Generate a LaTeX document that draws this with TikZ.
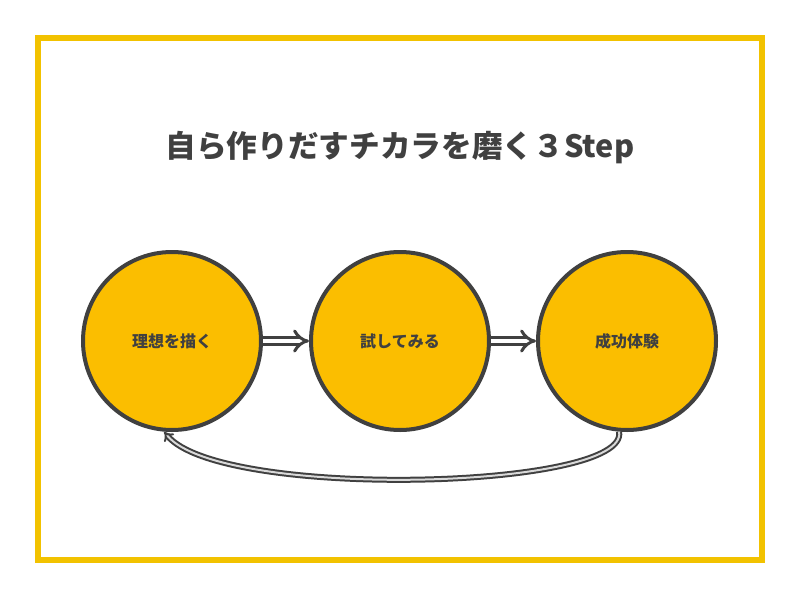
\documentclass[tikz,border=0pt]{standalone}
\usepackage{fontspec}
\setmainfont{Noto Sans CJK JP}
\usetikzlibrary{arrows.meta}
\definecolor{frameyellow}{HTML}{F2C200}
\definecolor{stepfill}{HTML}{FBBE00}
\definecolor{ink}{HTML}{404040}
\newlength{\pxu}\setlength{\pxu}{0.75pt}
\tikzset{
  stepnode/.style={circle, draw=ink, line width=3pt, fill=stepfill, minimum size=178\pxu, inner sep=0pt, text=ink, font=\bfseries\fontsize{12}{12}\selectfont},
  flow/.style={draw=ink, double=white, double distance=3.5pt, line width=2.2pt, -{Implies}},
}
\begin{document}
\begin{tikzpicture}[x=0.75pt,y=-0.75pt]
\useasboundingbox (0,0) rectangle (800,600);
\fill[white] (0,0) rectangle (800,600);
\draw[frameyellow, line width=3.8pt] (38,38) rectangle (762,560);

\node[text=ink, font=\bfseries\fontsize{23}{23}\selectfont] (title) at (400,148) {自ら作りだすチカラを磨く３Step};

\node[stepnode] (ideal) at (172,341) {理想を描く};
\node[stepnode] (try) at (400,341) {試してみる};
\node[stepnode] (success) at (627,341) {成功体験};

\draw[flow] (ideal) -- (try);
\draw[flow] (try) -- (success);
\draw[draw=ink, double=white!85!black, double distance=1.5pt, line width=1.5pt, -{Implies}]
  (success.-95) .. controls (630,490) and (220,500) .. (ideal.-95);
\end{tikzpicture}
\end{document}
